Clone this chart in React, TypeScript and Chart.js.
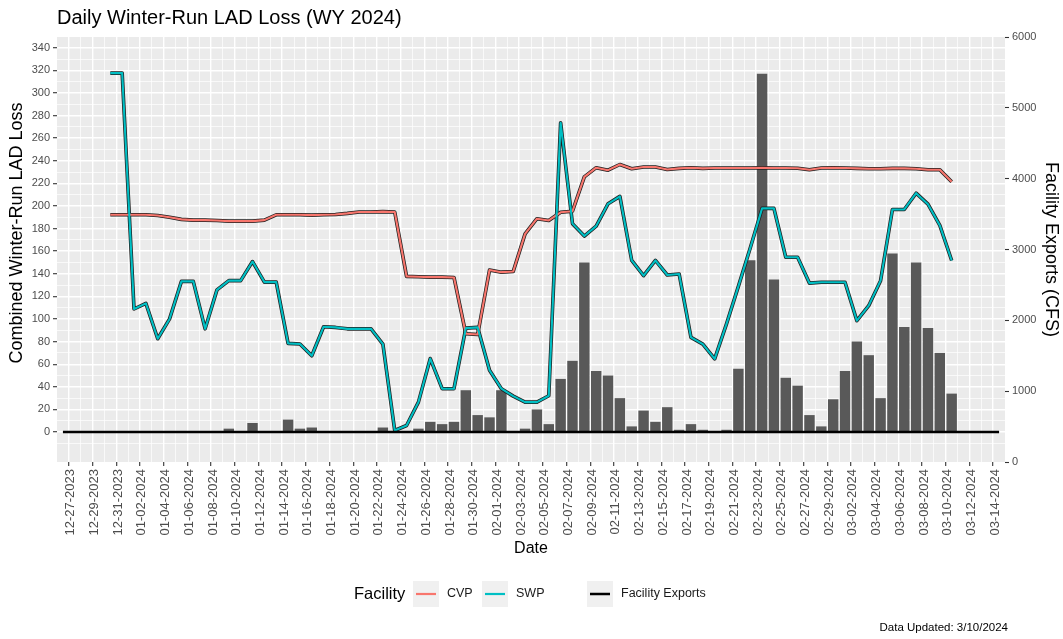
import { useEffect, useRef } from "react";
import { Chart, registerables } from "chart.js";

Chart.register(...registerables);

// ---------------- DATA ----------------
const sampleDates = [
  "12-30-2023", "12-31-2023",
  "01-01-2024", "01-02-2024", "01-03-2024", "01-04-2024", "01-05-2024", "01-06-2024", "01-07-2024", "01-08-2024",
  "01-09-2024", "01-10-2024", "01-11-2024", "01-12-2024", "01-13-2024", "01-14-2024", "01-15-2024", "01-16-2024",
  "01-17-2024", "01-18-2024", "01-19-2024", "01-20-2024", "01-21-2024", "01-22-2024", "01-23-2024", "01-24-2024",
  "01-25-2024", "01-26-2024", "01-27-2024", "01-28-2024", "01-29-2024", "01-30-2024", "01-31-2024",
  "02-01-2024", "02-02-2024", "02-03-2024", "02-04-2024", "02-05-2024", "02-06-2024", "02-07-2024", "02-08-2024",
  "02-09-2024", "02-10-2024", "02-11-2024", "02-12-2024", "02-13-2024", "02-14-2024", "02-15-2024", "02-16-2024",
  "02-17-2024", "02-18-2024", "02-19-2024", "02-20-2024", "02-21-2024", "02-22-2024", "02-23-2024", "02-24-2024",
  "02-25-2024", "02-26-2024", "02-27-2024", "02-28-2024", "02-29-2024",
  "03-01-2024", "03-02-2024", "03-03-2024", "03-04-2024", "03-05-2024", "03-06-2024", "03-07-2024", "03-08-2024",
  "03-09-2024", "03-10-2024",
];

// Combined Winter-Run LAD Loss (left axis, bars)
const combinedLoss = [
  0, 0, 0, 0, 0, 0, 0, 0, 0, 0,
  3, 0, 8, 0, 0, 11, 3, 4,
  0, 0, 0, 0, 0, 4, 0, 0,
  3, 9, 7, 9, 37, 15, 13, 37,
  0, 3, 20, 7, 47, 63, 150, 54,
  50, 30, 5, 19, 9, 22, 2, 7,
  2, 0, 2, 56, 152, 317, 135, 48,
  41, 15, 5, 29, 54, 80, 68, 30,
  158, 93, 150, 92, 70, 34,
];

// Facility exports (right axis, CFS)
const cvpExports = [
  3490, 3490, 3490, 3490, 3480, 3455, 3425, 3415, 3415, 3410,
  3400, 3400, 3400, 3415, 3490, 3490, 3490, 3485,
  3490, 3495, 3510, 3530, 3530, 3535, 3530, 2620,
  2615, 2610, 2610, 2605, 1810, 1800, 2710, 2680,
  2690, 3220, 3435, 3410, 3525, 3540, 4025, 4155,
  4120, 4200, 4140, 4165, 4165, 4130, 4145, 4155,
  4145, 4150, 4150, 4150, 4150, 4155, 4150, 4150,
  4148, 4125, 4150, 4152, 4150, 4145, 4140, 4140,
  4145, 4145, 4140, 4125, 4125, 3955,
];

const swpExports = [
  5490, 5490, 2160, 2240, 1740, 2020, 2550, 2550, 1880, 2430,
  2560, 2560, 2830, 2540, 2540, 1675, 1665, 1500,
  1910, 1900, 1880, 1880, 1880, 1665, 445, 515,
  845, 1460, 1035, 1035, 1890, 1900, 1295, 1035,
  930, 845, 845, 935, 4790, 3365, 3190, 3330,
  3645, 3750, 2845, 2630, 2845, 2640, 2655, 1760,
  1665, 1455, 1950, 2480, 3020, 3580, 3580, 2890,
  2890, 2525, 2537, 2537, 2537, 1995, 2207, 2560,
  3565, 3565, 3795, 3640, 3340, 2845,
];

const dateTickLabels = [
  "12-27-2023", "12-29-2023", "12-31-2023",
  "01-02-2024", "01-04-2024", "01-06-2024", "01-08-2024", "01-10-2024", "01-12-2024", "01-14-2024", "01-16-2024",
  "01-18-2024", "01-20-2024", "01-22-2024", "01-24-2024", "01-26-2024", "01-28-2024", "01-30-2024",
  "02-01-2024", "02-03-2024", "02-05-2024", "02-07-2024", "02-09-2024", "02-11-2024", "02-13-2024", "02-15-2024",
  "02-17-2024", "02-19-2024", "02-21-2024", "02-23-2024", "02-25-2024", "02-27-2024", "02-29-2024",
  "03-02-2024", "03-04-2024", "03-06-2024", "03-08-2024", "03-10-2024", "03-12-2024", "03-14-2024",
];

const lossTickValues = [0, 20, 40, 60, 80, 100, 120, 140, 160, 180, 200, 220, 240, 260, 280, 300, 320, 340];
const exportTickValues = [0, 1000, 2000, 3000, 4000, 5000, 6000];

const seriesNames = ["CVP", "SWP"];
const seriesColors = ["#F8766D", "#00BFC4"];
const exportsLabel = "Facility Exports";

// ---------------- HELPERS ----------------
const FONT = "'Liberation Sans', Arial, Helvetica, sans-serif";
const X_TICK_SIZE = 13;

const toDay = (s: string) => {
  const [m, d, y] = s.split("-").map(Number);
  return Math.round(Date.UTC(y, m - 1, d) / 86400000);
};
const ORIGIN = toDay(dateTickLabels[0]);
const xOf = (s: string) => toDay(s) - ORIGIN;

const majorX = dateTickLabels.map(xOf);
const X_MIN = majorX[0] - 1;
const X_MAX = majorX[majorX.length - 1];
const minorX = [X_MIN, ...majorX.map((v) => v + 1)].filter((v) => v <= X_MAX);
const allX = [...majorX, ...minorX].sort((a, b) => a - b);
const labelByX = new Map<number, string>(majorX.map((v, i) => [v, dateTickLabels[i]]));

const LOSS_MIN = -26.5;
const LOSS_MAX = 349.5;
const lossMinor = [-10, ...lossTickValues.slice(0, -1).map((v) => v + 10)];
const allLoss = [...lossTickValues, ...lossMinor].sort((a, b) => a - b);
const lossMajorSet = new Set(lossTickValues);

const sampleX = sampleDates.map(xOf);
const pts = (vals: number[]) => vals.map((v, i) => ({ x: sampleX[i], y: v }));

const decoPlugin = {
  id: "deco",
  beforeDraw(chart: any) {
    const { ctx, chartArea: a } = chart;
    ctx.save();
    ctx.fillStyle = "#EBEBEB";
    ctx.fillRect(a.left, a.top, a.right - a.left, a.bottom - a.top);
    ctx.restore();
  },
  afterDraw(chart: any) {
    const { ctx } = chart;
    ctx.save();
    // Title
    ctx.fillStyle = "#000000";
    ctx.textBaseline = "middle";
    ctx.textAlign = "left";
    ctx.font = `20px ${FONT}`;
    ctx.fillText("Daily Winter-Run LAD Loss (WY 2024)", 57, 18);

    // Left axis title
    ctx.save();
    ctx.translate(17, 233);
    ctx.rotate(-Math.PI / 2);
    ctx.textAlign = "center";
    ctx.font = `18px ${FONT}`;
    ctx.fillText("Combined Winter-Run LAD Loss", 0, 0);
    ctx.restore();

    // Legend
    const ly = 594;
    ctx.textAlign = "left";
    ctx.font = `16.5px ${FONT}`;
    ctx.fillText("Facility", 354, ly);
    const keys = [
      { bx: 413, label: seriesNames[0], color: seriesColors[0], lx: 447, seg: [416, 436] },
      { bx: 482, label: seriesNames[1], color: seriesColors[1], lx: 516, seg: [485, 505] },
      { bx: 587, label: exportsLabel, color: "#000000", lx: 621, seg: [590, 610] },
    ];
    keys.forEach((k) => {
      ctx.fillStyle = "#F0F0F0";
      ctx.fillRect(k.bx, ly - 13, 26, 26);
      ctx.strokeStyle = k.color;
      ctx.lineWidth = k.color === "#000000" ? 2.5 : 2.2;
      ctx.beginPath();
      ctx.moveTo(k.seg[0], ly);
      ctx.lineTo(k.seg[1], ly);
      ctx.stroke();
      ctx.fillStyle = "#1A1A1A";
      ctx.font = `12.5px ${FONT}`;
      ctx.fillText(k.label, k.lx, ly);
    });

    // Caption
    ctx.textAlign = "right";
    ctx.fillStyle = "#000000";
    ctx.font = `11.5px ${FONT}`;
    ctx.fillText("Data Updated: 3/10/2024", 1008, 628);
    ctx.restore();
  },
};

export default function App() {
  const canvasRef = useRef<HTMLCanvasElement | null>(null);

  useEffect(() => {
    if (!canvasRef.current) return;
    const lineCommon = {
      type: "line" as const,
      yAxisID: "yCfs",
      pointRadius: 0,
      tension: 0,
      borderJoinStyle: "round" as const,
      borderCapStyle: "butt" as const,
      fill: false,
    };
    const chart = new Chart(canvasRef.current, {
      type: "bar",
      data: {
        datasets: [
          {
            type: "line",
            label: exportsLabel,
            data: [
              { x: X_MIN, y: 0 },
              { x: X_MAX, y: 0 },
            ],
            yAxisID: "yLoss",
            borderColor: "#000000",
            borderWidth: 2.5,
            pointRadius: 0,
            order: 0,
          } as any,
          { ...lineCommon, label: seriesNames[1], data: pts(swpExports), borderColor: seriesColors[1], borderWidth: 2.1, order: 1 } as any,
          { ...lineCommon, label: seriesNames[0], data: pts(cvpExports), borderColor: seriesColors[0], borderWidth: 2.1, order: 2 } as any,
          { ...lineCommon, label: "swp-outline", data: pts(swpExports), borderColor: "#1F1F1F", borderWidth: 3.6, order: 3 } as any,
          { ...lineCommon, label: "cvp-outline", data: pts(cvpExports), borderColor: "#1F1F1F", borderWidth: 3.6, order: 4 } as any,
          {
            type: "bar",
            label: "Loss",
            data: pts(combinedLoss),
            yAxisID: "yLoss",
            backgroundColor: "#595959",
            borderWidth: 0,
            barPercentage: 0.88,
            categoryPercentage: 1,
            order: 10,
          } as any,
        ],
      },
      options: {
        responsive: false,
        animation: false,
        devicePixelRatio: 1,
        events: [],
        layout: { padding: { top: 37, bottom: 77, left: 0, right: 0 } },
        plugins: {
          legend: { display: false },
          tooltip: { enabled: false },
          title: { display: false },
        },
        scales: {
          x: {
            type: "linear",
            min: X_MIN,
            max: X_MAX,
            afterBuildTicks: (s: any) => {
              s.ticks = allX.map((v) => ({ value: v }));
            },
            afterFit: (s: any) => {
              s.height = 100;
            },
            grid: {
              color: "#FFFFFF",
              lineWidth: (c: any) => (labelByX.has(c.tick?.value) ? 1.4 : 0.7),
              tickColor: (c: any) => (labelByX.has(c.tick?.value) ? "#333333" : "rgba(0,0,0,0)"),
              tickLength: 4,
              tickWidth: 1.1,
            },
            border: { display: false },
            ticks: {
              autoSkip: false,
              maxRotation: 90,
              minRotation: 90,
              padding: 3,
              labelOffset: -4,
              color: "#4D4D4D",
              font: { family: FONT, size: X_TICK_SIZE },
              callback: (v: any) => labelByX.get(Number(v)) ?? "",
            },
            title: {
              display: true,
              text: "Date",
              color: "#000000",
              font: { family: FONT, size: 16 },
              padding: { top: 0, bottom: 4 },
            },
          },
          yLoss: {
            type: "linear",
            position: "left",
            min: LOSS_MIN,
            max: LOSS_MAX,
            afterBuildTicks: (s: any) => {
              s.ticks = allLoss.map((v) => ({ value: v }));
            },
            afterFit: (s: any) => {
              s.width = 57;
            },
            grid: {
              color: "#FFFFFF",
              lineWidth: (c: any) => (lossMajorSet.has(c.tick?.value) ? 1.4 : 0.7),
              tickColor: (c: any) => (lossMajorSet.has(c.tick?.value) ? "#333333" : "rgba(0,0,0,0)"),
              tickLength: 4,
              tickWidth: 1.1,
            },
            border: { display: false },
            ticks: {
              autoSkip: false,
              padding: 3,
              color: "#4D4D4D",
              font: { family: FONT, size: 11 },
              callback: (v: any) => (lossMajorSet.has(Number(v)) ? String(v) : ""),
            },
            title: { display: false },
          },
          yCfs: {
            type: "linear",
            position: "right",
            min: 0,
            max: 6000,
            afterBuildTicks: (s: any) => {
              s.ticks = exportTickValues.map((v) => ({ value: v }));
            },
            afterFit: (s: any) => {
              s.width = 58;
            },
            grid: {
              drawOnChartArea: false,
              tickColor: "#333333",
              tickLength: 4,
              tickWidth: 1.1,
            },
            border: { display: false },
            ticks: {
              autoSkip: false,
              padding: 3,
              color: "#4D4D4D",
              font: { family: FONT, size: 11 },
              callback: (v: any) => String(v),
            },
            title: {
              display: true,
              text: "Facility Exports (CFS)",
              color: "#000000",
              font: { family: FONT, size: 18 },
              padding: { top: 1, bottom: 0 },
            },
          },
        },
      } as any,
      plugins: [decoPlugin],
    });
    return () => chart.destroy();
  }, []);

  return (
    <div style={{ position: "fixed", left: 0, top: 0, width: 1063, height: 639, background: "#FFFFFF" }}>
      <canvas ref={canvasRef} width={1063} height={639} style={{ display: "block" }} />
    </div>
  );
}
